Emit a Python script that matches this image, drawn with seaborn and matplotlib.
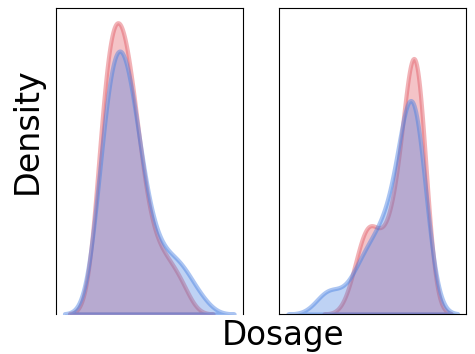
import matplotlib
matplotlib.use("Agg")
import matplotlib.pyplot as plt
import seaborn as sns
from matplotlib.colors import to_rgba

# dosage samples, left panel
left_red = [3.96, 4.09, 4.21, 4.34, 4.46, 4.57, 4.68, 4.79, 4.90, 5.00,
            5.10, 5.21, 5.31, 5.41, 5.50, 5.60, 5.70, 5.79, 5.89, 5.99,
            6.08, 6.18, 6.28, 6.37, 6.47, 6.57, 6.67, 6.77, 6.88, 6.98,
            7.10, 7.21, 7.32, 7.44, 7.57, 7.70, 7.83, 7.99, 8.17, 8.34,
            8.57, 8.82, 9.15, 9.52, 9.93, 10.37, 10.89, 11.42, 12.03, 12.86]
left_blue = [3.97, 4.12, 4.26, 4.40, 4.60, 4.71, 4.84, 4.95, 5.07, 5.17,
             5.28, 5.39, 5.49, 5.60, 5.70, 5.80, 5.90, 6.01, 6.10, 6.20,
             6.31, 6.40, 6.51, 6.61, 6.72, 6.82, 6.93, 7.04, 7.16, 7.28,
             7.39, 7.52, 7.66, 7.79, 7.96, 8.12, 8.29, 8.51, 8.74, 9.01,
             9.29, 9.76, 10.15, 10.60, 11.10, 11.65, 12.20, 12.70, 13.20, 14.50]

# dosage samples, right panel
right_red = [9.10, 9.85, 10.34, 10.67, 10.98, 11.24, 11.49, 11.78, 11.98, 12.13,
             12.95, 13.38, 13.77, 14.13, 14.45, 14.77, 15.05, 15.32, 15.59, 15.82,
             16.04, 16.20, 16.34, 16.48, 16.61, 16.75, 16.87, 16.99, 17.11, 17.23,
             17.33, 17.43, 17.53, 17.62, 17.70, 17.78, 17.85, 17.92, 17.99, 18.06,
             18.14, 18.21, 18.27, 18.33, 18.40, 18.47, 18.53, 18.60, 18.67, 18.74]
right_blue = [5.13, 5.94, 6.75, 8.82, 9.63, 10.23, 10.70, 11.13, 11.50, 11.93,
              12.35, 12.74, 13.10, 13.43, 13.73, 14.04, 14.32, 14.60, 14.88, 15.13,
              15.38, 15.63, 15.86, 16.08, 16.23, 16.36, 16.50, 16.63, 16.76, 16.88,
              16.99, 17.09, 17.18, 17.26, 17.34, 17.43, 17.51, 17.59, 17.67, 17.75,
              17.83, 17.91, 17.99, 18.08, 18.17, 18.25, 18.35, 18.45, 18.58, 18.70]

red = "#e2545f"
blue = "#457ee2"

fig, axes = plt.subplots(1, 2, figsize=(4.75, 3.54), dpi=100, sharey=True)
fig.subplots_adjust(left=0.118, right=0.981, bottom=0.113, top=0.977, wspace=0.198)

for ax, r, b in zip(axes, [left_red, right_red], [left_blue, right_blue]):
    sns.kdeplot(x=r, ax=ax, fill=True, color=red, alpha=0.35, linewidth=3,
                edgecolor=to_rgba(red, 0.45))
    sns.kdeplot(x=b, ax=ax, fill=True, color=blue, alpha=0.35, linewidth=3,
                edgecolor=to_rgba(blue, 0.45))
    ax.set_xticks([])
    ax.set_yticks([])
    ax.set_xlabel("")
    ax.set_ylabel("")

axes[0].spines["bottom"].set_visible(False)

fig.text(0.057, 0.63, "Density", rotation=90, fontsize=24, ha="center", va="center")
fig.text(0.595, 0.0254, "Dosage", fontsize=23.5, ha="center", va="baseline")

plt.savefig("out.png", dpi=100)
